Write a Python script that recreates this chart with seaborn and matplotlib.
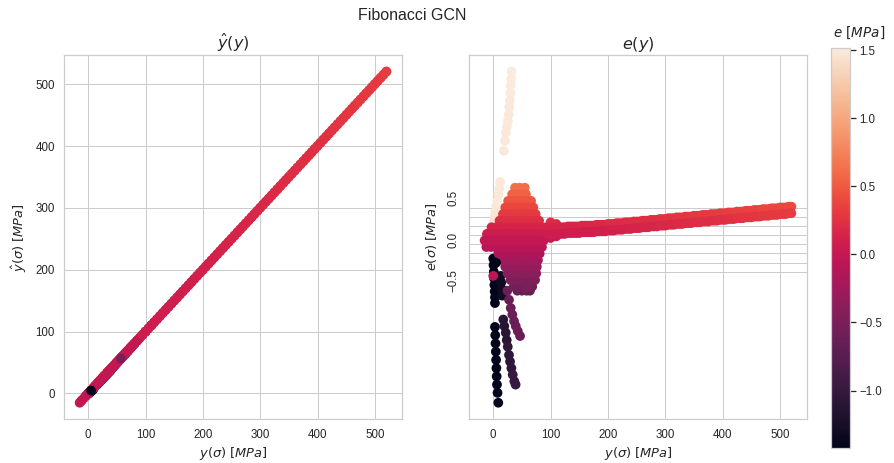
import numpy as np
import pandas as pd
import matplotlib
matplotlib.use("Agg")
import matplotlib.pyplot as plt
import seaborn as sns
from matplotlib.colors import Normalize
from matplotlib.cm import ScalarMappable

# ---------------- data ----------------
# true value y [MPa], error e [MPa] (vertical position in right panel), colour value
cream_y = [32, 31.5, 30.5, 30, 29, 28, 27, 25.5, 24, 22, 20.5, 18.5, 12, 10.5, 9, 7, 5, 3.5, 2, 0.5]
cream_e = [2.04, 1.95, 1.87, 1.78, 1.69, 1.61, 1.52, 1.44, 1.37, 1.30, 1.20, 1.08, 0.70, 0.62, 0.55, 0.47, 0.40, 0.33, 0.27, 0.21]
cream_c = [1.515, 1.515, 1.51, 1.51, 1.5, 1.5, 1.5, 1.5, 1.5, 1.5, 1.5, 1.5, 1.5, 1.5, 1.5, 1.5, 1.5, 1.48, 1.48, 1.45]

black_y = [0, 0.5, 1, 1.5, 2, 2.5, 3, 3, 13, 14, 15, 15.5, 3, 3.5, 4, 4.5, 5, 5.5, 6, 6.5, 7.5, 8.8]
black_e = [-0.23, -0.31, -0.39, -0.47, -0.55, -0.63, -0.70, -0.77, -0.44, -0.52, -0.60, -0.68,
           -1.06, -1.16, -1.26, -1.36, -1.46, -1.56, -1.66, -1.76, -1.86, -1.98]
black_c = [-1.42, -1.42, -1.42, -1.42, -1.42, -1.42, -1.42, -1.42, -1.3, -1.3, -1.3, -1.3,
           -1.42, -1.42, -1.42, -1.42, -1.42, -1.42, -1.42, -1.42, -1.42, -1.42]

darkp_y = [17.5, 19.3, 21.8, 23.5, 25.3, 27.5, 29.3, 31.6, 34, 36.8, 39]
darkp_e = [-0.97, -1.05, -1.13, -1.22, -1.30, -1.40, -1.48, -1.56, -1.64, -1.72, -1.76]
darkp_c = [-1.1, -1.1, -1.1, -1.1, -1.05, -1.05, -1.05, -1.05, -1.0, -1.0, -1.0]

purp_y = [24.6, 27.5, 30.5, 33.3, 36.3, 39.3, 42.8, 46.8]
purp_e = [-0.62, -0.73, -0.83, -0.91, -0.99, -1.05, -1.11, -1.17]
purp_c = [-0.62, -0.62, -0.62, -0.62, -0.62, -0.62, -0.62, -0.62]

# central blob: rows of constant e (colour equals e there), with the y values of each row
blob_row_e = [0.63, 0.55, 0.47, 0.39, 0.31, 0.23, 0.15, 0.07, -0.01, -0.09, -0.17, -0.25, -0.33, -0.41, -0.49, -0.57, -0.62]
blob_row_y = [
    [38, 46, 55],
    [33, 41, 49, 57],
    [26, 34, 42, 50, 58, 66],
    [21, 29, 37, 45, 53, 61, 70],
    [17, 25, 33, 41, 49, 57, 65, 74],
    [11, 19, 27, 35, 43, 51, 59, 67, 74, 80],
    [-3, 5, 13, 21, 29, 37, 45, 53, 61, 69, 77, 85, 92],
    [-11, -3, 5, 13, 21, 29, 37, 45, 53, 61, 69, 77, 85, 90],
    [-15, -7, 1, 9, 17, 25, 33, 41, 49, 57, 65, 73, 81, 88],
    [-12, -4, 4, 12, 20, 28, 36, 44, 52, 60, 68, 76, 85],
    [9, 17, 25, 33, 41, 49, 57, 65, 73, 81],
    [17, 25, 33, 41, 49, 57, 65, 72, 78],
    [21, 29, 37, 45, 53, 61, 69, 76],
    [25, 33, 41, 49, 57, 65, 75],
    [30, 38, 46, 54, 62, 70, 73],
    [36, 44, 52, 60, 68],
    [42, 50, 58, 64],
]

# long tail (colour equals e): y values and the upper / lower edge of the band
tail_y = [95, 100, 105, 110, 115, 120, 125, 130, 135, 140, 145, 150, 155, 160, 165, 170, 175,
          180, 185, 190, 195, 200, 205, 210, 215, 220, 225, 230, 235, 240, 245, 250, 255, 260,
          265, 270, 275, 280, 285, 290, 295, 300, 305, 310, 315, 320, 325, 330, 335, 340, 345,
          350, 355, 360, 365, 370, 375, 380, 385, 390, 395, 400, 405, 410, 415, 420, 425, 430,
          435, 440, 445, 450, 455, 460, 465, 470, 475, 480, 485, 490, 495, 500, 505, 510, 515, 520]
tail_e_up = [0.14, 0.14, 0.14, 0.15, 0.15, 0.15, 0.15, 0.16, 0.16, 0.16, 0.16, 0.16, 0.17, 0.17,
             0.17, 0.17, 0.17, 0.18, 0.18, 0.18, 0.18, 0.19, 0.19, 0.19, 0.20, 0.20, 0.20, 0.21,
             0.21, 0.21, 0.22, 0.22, 0.22, 0.23, 0.23, 0.23, 0.24, 0.24, 0.24, 0.25, 0.25, 0.25,
             0.26, 0.26, 0.26, 0.27, 0.27, 0.27, 0.28, 0.28, 0.28, 0.29, 0.29, 0.29, 0.30, 0.30,
             0.30, 0.31, 0.31, 0.31, 0.32, 0.32, 0.32, 0.33, 0.33, 0.33, 0.34, 0.34, 0.34, 0.35,
             0.35, 0.35, 0.36, 0.36, 0.36, 0.37, 0.37, 0.37, 0.38, 0.38, 0.38, 0.39, 0.39, 0.39,
             0.40, 0.40]
tail_e_lo = [0.06, 0.06, 0.06, 0.07, 0.07, 0.07, 0.07, 0.08, 0.08, 0.08, 0.08, 0.08, 0.09, 0.09,
             0.09, 0.09, 0.09, 0.10, 0.10, 0.10, 0.10, 0.11, 0.11, 0.11, 0.12, 0.12, 0.12, 0.13,
             0.13, 0.13, 0.14, 0.14, 0.14, 0.15, 0.15, 0.15, 0.16, 0.16, 0.16, 0.17, 0.17, 0.17,
             0.18, 0.18, 0.18, 0.19, 0.19, 0.19, 0.20, 0.20, 0.20, 0.21, 0.21, 0.21, 0.22, 0.22,
             0.22, 0.23, 0.23, 0.23, 0.24, 0.24, 0.24, 0.25, 0.25, 0.25, 0.26, 0.26, 0.26, 0.27,
             0.27, 0.27, 0.28, 0.28, 0.28, 0.29, 0.29, 0.29, 0.30, 0.30, 0.30, 0.31, 0.31, 0.31,
             0.32, 0.32]
extra_y = [100, 110, 100, 110]
extra_e = [0.21, 0.19, 0.02, 0.04]

# a few points drawn last
late_y = [0, 57, 5]
late_e = [-0.44, -0.58, -0.28]
late_c = [-0.05, -0.5, -1.42]

right_grid_ticks = np.linspace(-0.5, 0.5, 10)
right_label_ticks = [-0.5, 0.0, 0.5]
right_labels = ["\u22120.5", "0.0", "0.5"]

# ---------------- assemble in drawing order ----------------
ys, es, cs = [], [], []
def add(y, e, c):
    ys.extend(y); es.extend(e); cs.extend(c)

add(cream_y, cream_e, cream_c)
add(black_y, black_e, black_c)
add(darkp_y, darkp_e, darkp_c)
add(purp_y, purp_e, purp_c)
order = sorted(range(len(blob_row_e)), key=lambda i: -abs(blob_row_e[i]))
for i in order:
    row = blob_row_y[i]
    add(row, [blob_row_e[i]] * len(row), [blob_row_e[i]] * len(row))
add(extra_y, extra_e, extra_e)
add(tail_y, tail_e_up, tail_e_up)
add(tail_y, tail_e_lo, tail_e_lo)
add(late_y, late_e, late_c)

df = pd.DataFrame({"y": ys, "e": es, "c": cs})
df["yhat"] = df["y"] + df["e"]

# ---------------- plotting ----------------
sns.set_theme(style="whitegrid", context="notebook")
plt.rcParams["font.family"] = ["Liberation Sans", "DejaVu Sans"]

W, H, DPI = 894, 463, 72
fig = plt.figure(figsize=(W / DPI, H / DPI), dpi=DPI)

def px_axes(l, t, r, b):
    return fig.add_axes([l / W, 1 - b / H, (r - l) / W, (b - t) / H])

ax1 = px_axes(64.3, 55, 401.7, 419.3)
ax2 = px_axes(469.3, 55, 806.7, 419.3)
cax = px_axes(830.7, 48, 850, 447.7)

cmap = sns.color_palette("rocket", as_cmap=True)
norm = Normalize(vmin=min(cs), vmax=max(cs))
kw = dict(hue="c", palette=cmap, hue_norm=norm, s=95, linewidth=0, legend=False)

sns.scatterplot(data=df, x="y", y="yhat", ax=ax1, **kw)
sns.scatterplot(data=df, x="y", y="e", ax=ax2, **kw)

ax1.set_title(r"$\hat{y}(y)$", fontsize=16)
ax2.set_title(r"$e(y)$", fontsize=16)
ax1.set_xlabel(r"$y(\sigma)\ [MPa]$", fontsize=13)
ax2.set_xlabel(r"$y(\sigma)\ [MPa]$", fontsize=13)
ax1.set_ylabel(r"$\hat{y}(\sigma)\ [MPa]$", fontsize=13, labelpad=6)
ax2.set_ylabel(r"$e(\sigma)\ [MPa]$", fontsize=13, labelpad=9)
ax1.set_xticks([0, 100, 200, 300, 400, 500])
ax2.set_xticks([0, 100, 200, 300, 400, 500])
ax1.set_yticks([0, 100, 200, 300, 400, 500])

ax2.set_yticks(right_grid_ticks, minor=True)
ax2.set_yticks(right_label_ticks)
ax2.set_yticklabels(right_labels, rotation=90, va="center")
ax2.grid(False, axis="y", which="major")
ax2.grid(True, axis="y", which="minor", color=".8", linewidth=1)

for ax in (ax1, ax2):
    ax.tick_params(labelsize=11.5)

cb = fig.colorbar(ScalarMappable(norm=norm, cmap=cmap), cax=cax)
cb.ax.tick_params(labelsize=11.5)
cb.outline.set_edgecolor(".8")
fig.text(859 / W, 1 - 33 / H, r"$e\ [MPa]$", ha="center", va="center", fontsize=13.5)

fig.suptitle("Fibonacci GCN", x=412 / W, y=1 - 15 / H, va="center", fontsize=16)

fig.savefig("out.png", dpi=DPI)
